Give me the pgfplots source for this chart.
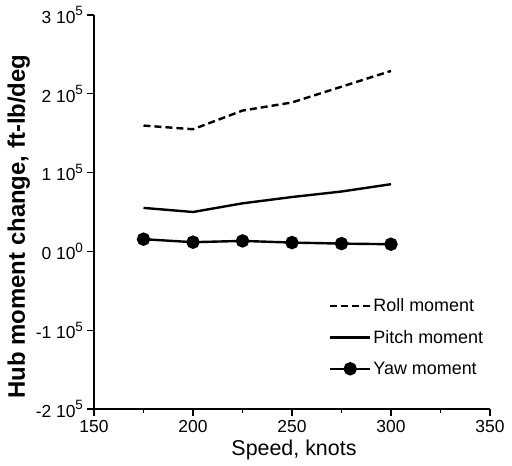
\documentclass[border=0pt]{standalone}
\usepackage{fontspec}
\setmainfont{Liberation Sans}
\usepackage{pgfplots}
\pgfplotsset{compat=1.18}
\newcommand\expo[1]{\raisebox{0.42em}{\fontsize{13.5}{13.5}\selectfont #1}}

\begin{document}
\begin{tikzpicture}
\begin{axis}[
    scale only axis,
    width=396bp, height=394bp,
    xmin=150, xmax=350,
    ymin=-200000, ymax=300000,
    axis x line=bottom, axis y line=left,
    axis line style={-, line width=1.3bp},
    xtick={150,200,250,300,350},
    minor xtick={175,225,275,325},
    ytick={-200000,-100000,0,100000,200000,300000},
    yticklabels={-2 10\expo{5},-1 10\expo{5},0 10\expo{0},1 10\expo{5},2 10\expo{5},3 10\expo{5}},
    scaled y ticks=false,
    tick align=outside,
    major tick length=6.5bp, minor tick length=3.5bp,
    tick style={black, line width=1.1bp},
    /pgf/number format/assume math mode=true,
    ticklabel style={font=\fontsize{17.5}{19}\selectfont},
    xticklabel style={yshift=-1bp},
    yticklabel style={xshift=-1bp},
    xlabel={Speed, knots},
    ylabel={\bfseries Hub moment change, ft-lb/deg},
    xlabel style={font=\fontsize{21.5}{23}\selectfont, at={(axis description cs:0.505,-0.117)}, anchor=base},
    ylabel style={font=\fontsize{24}{26}\selectfont, at={(axis description cs:-0.19,0.463)}, anchor=center, rotate=0},
    legend style={at={(0.593,0.290)}, anchor=north west, draw=none, fill=none,
        font=\fontsize{18}{20}\selectfont, row sep=13bp, inner xsep=0bp},
    legend cell align=left,
    legend image code/.code={\draw[mark repeat=2,mark phase=2,#1] plot coordinates {(0bp,0bp) (20bp,0bp) (40bp,0bp)};},
    clip=false,
    after end axis/.append code={
        \coordinate (ll) at (rel axis cs:0,0);
        \coordinate (ur) at (rel axis cs:1,1);
    },
]
\addplot[black, line width=2.4bp, dash pattern=on 7bp off 4bp] coordinates {
(175,159700) (200,155000) (225,178700) (250,189000) (275,209000) (300,229000)};
\addlegendentry{Roll moment}
\addplot[black, line width=2.4bp] coordinates {
(175,55200) (200,50000) (225,61000) (250,69000) (275,76000) (300,85300)};
\addlegendentry{Pitch moment}
\addplot[black, line width=2.4bp, mark=*, mark size=5.5bp] coordinates {
(175,15500) (200,11700) (225,13300) (250,11200) (275,9900) (300,9100)};
\addlegendentry{Yaw moment}
\end{axis}
\pgfresetboundingbox
\useasboundingbox ([shift={(-94bp,-57bp)}]ll) rectangle ([shift={(22bp,15bp)}]ur);
\end{tikzpicture}
\end{document}
